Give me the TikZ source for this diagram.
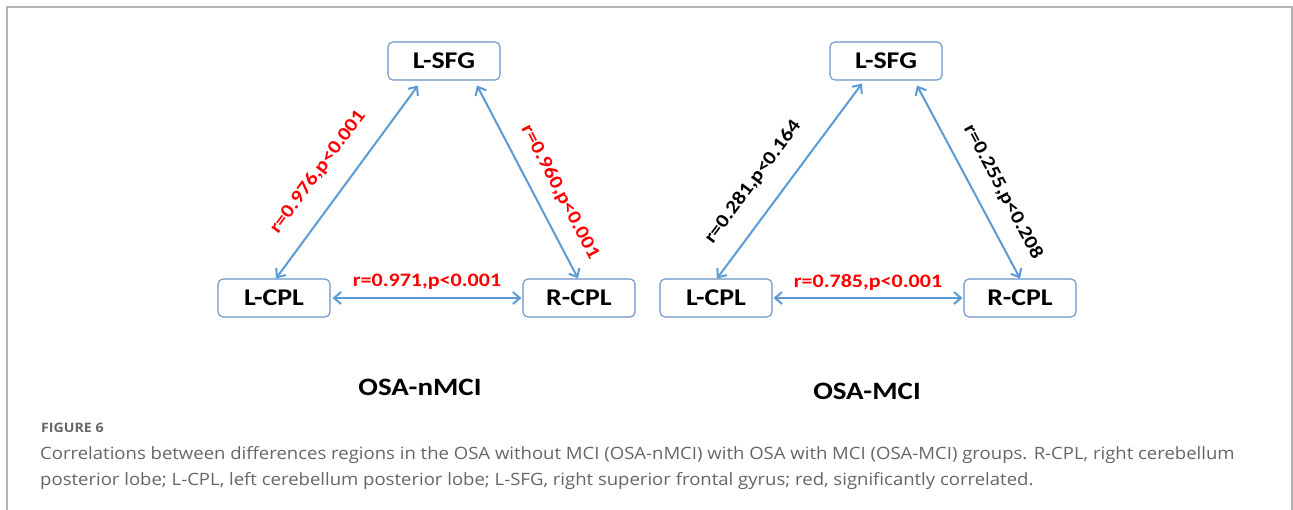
\documentclass[tikz,border=0pt]{standalone}
\usepackage{fontspec}
\usetikzlibrary{arrows.meta}
\newfontfamily\calb[FakeStretch=1.16]{Carlito}
\newfontfamily\capf[FakeStretch=1.09]{Open Sans}
\definecolor{boxblue}{HTML}{6A93C6}
\definecolor{arrblue}{HTML}{5B9BD5}
\definecolor{framegray}{HTML}{B4B4B4}
\definecolor{capgray}{HTML}{666666}
\begin{document}
\begin{tikzpicture}[x=1pt,y=-1pt,
  region/.style={draw=boxblue, line width=1.1pt, rounded corners=5pt, minimum width=112pt, minimum height=38pt, inner sep=0pt, font=\calb\bfseries\fontsize{24}{24}\selectfont, fill=white},
  link/.style={draw=arrblue, line width=2pt, {Straight Barb[length=7pt,width=12pt]}-{Straight Barb[length=7pt,width=12pt]}},
  sig/.style={font=\calb\bfseries\fontsize{19}{19}\selectfont, text=red, inner sep=0pt},
  ns/.style={sig, text=black},
  group/.style={font=\calb\bfseries\fontsize{25}{25}\selectfont, inner sep=0pt},
  capt/.style={font=\capf\fontsize{17}{17}\selectfont, text=capgray, inner sep=0pt, anchor=west}]
\fill[white] (0,0) rectangle (1293,510);
\useasboundingbox (0,0) rectangle (1293,510);
\draw[framegray, line width=1.5pt] (7,512) -- (7,7) -- (1292,7) -- (1292,512);
% left diagram
\node[region] (lsfg1) at (444,61) {L-SFG};
\node[region] (lcpl1) at (274,298) {L-CPL};
\node[region] (rcpl1) at (579,298) {R-CPL};
\draw[link] ([xshift=-26pt,yshift=-5pt]lsfg1.south) -- ([xshift=2pt]lcpl1.north);
\draw[link] ([xshift=33pt,yshift=-5pt]lsfg1.south) -- ([xshift=-1pt]rcpl1.north);
\draw[link] ([xshift=2pt]lcpl1.east) -- ([xshift=-1pt]rcpl1.west);
\node[sig, rotate=53.7] (l1) at (318,172) {r=0.976,p<0.001};
\node[sig, rotate=-62.4] (r1) at (560,192) {r=0.960,p<0.001};
\node[sig] (h1) at (427,282) {r=0.971,p<0.001};
\node[group] (g1) at (420,387) {OSA-nMCI};
% right diagram
\node[region] (lsfg2) at (886,61) {L-SFG};
\node[region] (lcpl2) at (716,298) {L-CPL};
\node[region] (rcpl2) at (1020,298) {R-CPL};
\draw[link] ([xshift=-24pt,yshift=-3pt]lsfg2.south) -- ([xshift=1pt]lcpl2.north);
\draw[link] ([xshift=31pt,yshift=-5pt]lsfg2.south) -- ([xshift=0pt]rcpl2.north);
\draw[link] ([xshift=1pt]lcpl2.east) -- ([xshift=-1pt]rcpl2.west);
\node[ns, rotate=53.4] (l2) at (753,182) {r=0.281,p<0.164};
\node[ns, rotate=-62] (r2) at (1003,192) {r=0.255,p<0.208};
\node[sig] (h2) at (868,282) {r=0.785,p<0.001};
\node[group] (g2) at (867,391) {OSA-MCI};
% caption
\node[capt, font=\capf\bfseries\fontsize{13}{13}\selectfont] (fig) at (41,428) {FIGURE 6};
\node[capt] (c1) at (40,455) {Correlations between differences regions in the OSA without MCI (OSA-nMCI) with OSA with MCI (OSA-MCI) groups. R-CPL, right cerebellum};
\node[capt] (c2) at (40,481) {posterior lobe; L-CPL, left cerebellum posterior lobe; L-SFG, right superior frontal gyrus; red, significantly correlated.};
\end{tikzpicture}
\end{document}
